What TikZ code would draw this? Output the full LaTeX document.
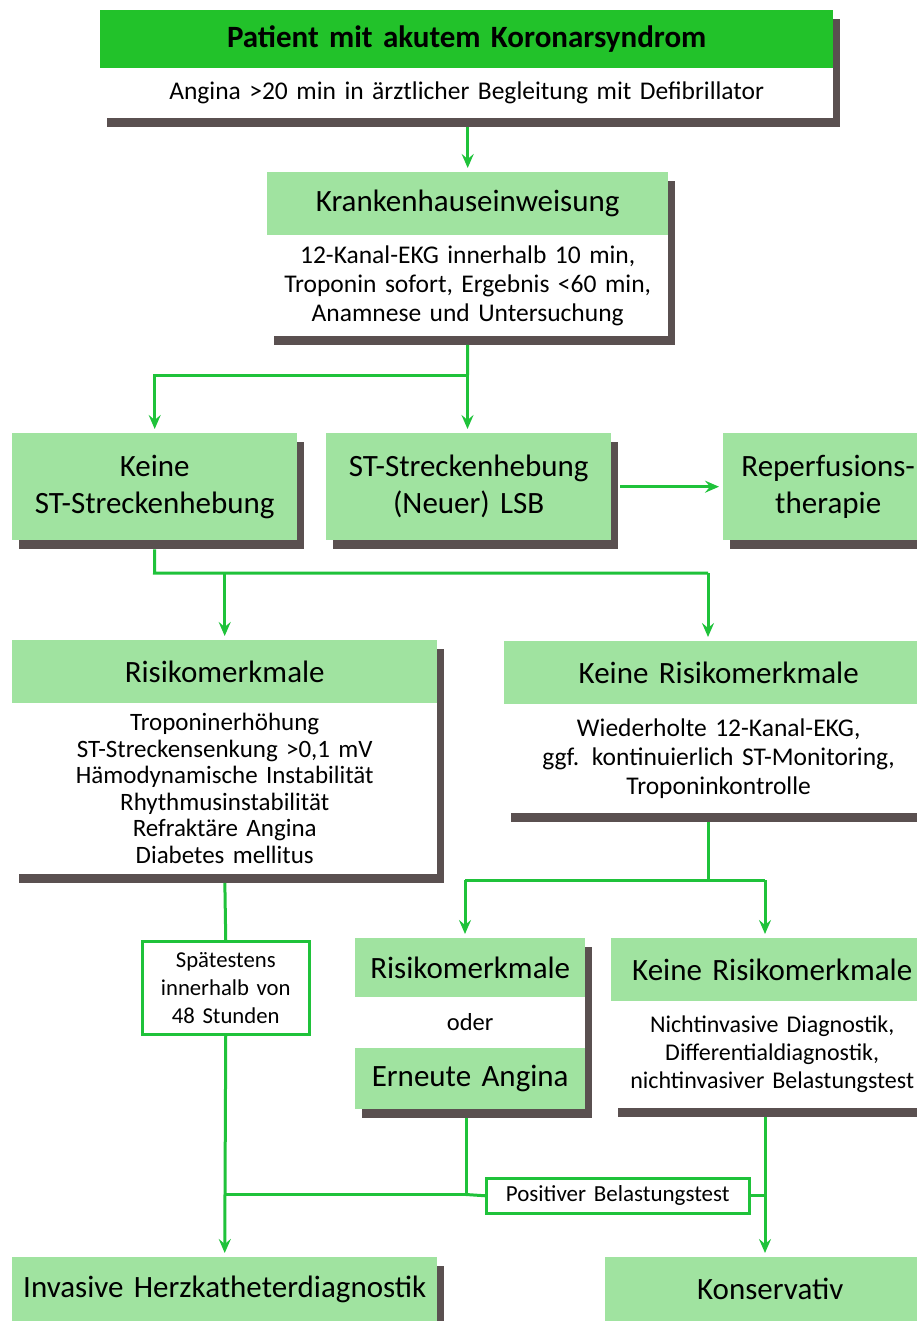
\documentclass[tikz,border=0pt]{standalone}
\usepackage{fontspec}
\setmainfont{Carlito}
\usetikzlibrary{arrows.meta, shadows}

\definecolor{hellgruen}{HTML}{A0E3A0}
\definecolor{kopfgruen}{HTML}{22C22A}
\definecolor{liniengruen}{HTML}{1FC23A}
\definecolor{schatten}{HTML}{5A5050}

\tikzset{
  kasten/.style={anchor=north west, inner sep=0pt, align=center,
    drop shadow={shadow xshift=7pt, shadow yshift=-9pt, fill=schatten, opacity=1}},
  kopf/.style={kasten, fill=hellgruen, font=\fontsize{31}{37}\selectfont},
  rumpf/.style={kasten, fill=white, font=\fontsize{25.5}{29}\selectfont},
  marke/.style={anchor=north west, draw=liniengruen, line width=2.5pt, fill=white,
    inner sep=0pt, align=center},
  linie/.style={liniengruen, line width=3pt},
  pfeil/.style={linie, -{Stealth[length=14pt, width=12pt, inset=5pt]}, shorten >=4pt},
}

\begin{document}
\begin{tikzpicture}[x=1pt, y=-1pt]
    \useasboundingbox (0,0) rectangle (917,1321);

    % Aufnahme
    \node[kasten, fill=kopfgruen, text width=733pt, minimum height=58pt,
      font=\bfseries\fontsize{31}{34}\selectfont] (patient) at (100,10) {Patient mit akutem Koronarsyndrom};
    \node[rumpf, text width=733pt, minimum height=49.5pt, font=\fontsize{25.5}{28}\selectfont]
      (patient-text) at ([yshift=0.5pt]patient.south west) {Angina >20 min in ärztlicher Begleitung mit Defibrillator};

    % Krankenhaus
    \node[kopf, text width=401pt, minimum height=63pt] (kh) at (267,172) {Krankenhauseinweisung};
    \node[rumpf, text width=401pt, minimum height=100.5pt] (kh-text) at ([yshift=0.5pt]kh.south west)
      {12-Kanal-EKG innerhalb 10 min,\\Troponin sofort, Ergebnis <60 min,\\Anamnese und Untersuchung};

    % EKG-Befund
    \node[kopf, text width=285pt, minimum height=107pt] (keine-st) at (12,433) {Keine\\ST-Streckenhebung};
    \node[kopf, text width=285pt, minimum height=107pt] (st) at (326,433) {ST-Streckenhebung\\(Neuer) LSB};
    \node[kopf, text width=210pt, minimum height=107pt] (reperf) at (723,433) {Reperfusions-\\therapie};

    % Risiko
    \node[kopf, text width=425pt, minimum height=63pt] (risiko) at (12,640) {Risikomerkmale};
    \node[rumpf, text width=425pt, minimum height=170.5pt, font=\fontsize{25}{26.5}\selectfont]
      (risiko-text) at ([yshift=0.5pt]risiko.south west) {Troponinerhöhung\\ST-Streckensenkung >0,1 mV\\Hämodynamische Instabilität\\Rhythmusinstabilität\\Refraktäre Angina\\Diabetes mellitus};
    \node[kopf, text width=429pt, minimum height=63pt] (kein-risiko) at (504,641) {Keine Risikomerkmale};
    \node[rumpf, text width=429pt, minimum height=108.5pt] (kein-risiko-text) at ([yshift=0.5pt]kein-risiko.south west)
      {Wiederholte 12-Kanal-EKG,\\ggf. kontinuierlich ST-Monitoring,\\Troponinkontrolle};

    % Verlauf
    \node[kopf, text width=230pt, minimum height=59pt] (rm) at (355,938) {Risikomerkmale};
    \node[rumpf, text width=230pt, minimum height=50.5pt, font=\fontsize{24.5}{26}\selectfont] (oder) at ([yshift=0.5pt]rm.south west) {oder};
    \node[kopf, text width=230pt, minimum height=61.5pt] (angina) at ([yshift=0.5pt]oder.south west) {Erneute Angina};
    \node[kopf, text width=322pt, minimum height=63pt] (kein-rm) at (611,938) {Keine Risikomerkmale};
    \node[rumpf, text width=322pt, minimum height=106.5pt, font=\fontsize{24}{28}\selectfont]
      (kein-rm-text) at ([yshift=0.5pt]kein-rm.south west) {Nichtinvasive Diagnostik,\\Differentialdiagnostik,\\nichtinvasiver Belastungstest};

    % Therapie
    \node[kopf, text width=425pt, minimum height=64pt] (invasiv) at (12,1257) {Invasive Herzkatheterdiagnostik};
    \node[kopf, text width=330pt, minimum height=64pt] (konserv) at (605,1257) {Konservativ};

    % Marken
    \node[marke, text width=167pt, minimum height=93pt, font=\fontsize{22.7}{28}\selectfont]
      (spaet) at (141,940) {Spätestens\\innerhalb von\\48 Stunden};
    \node[marke, text width=263pt, minimum height=35pt, font=\fontsize{23}{24}\selectfont]
      (pos) at (485,1177) {Positiver Belastungstest};

    % Verbindungen
    \draw[pfeil, shorten <=9pt] (patient-text.south -| kh.north) -- (kh.north);

    \coordinate (gabel-kh) at (467.5,375);
    \draw[linie, shorten <=9pt] (kh-text.south) -- (gabel-kh);
    \draw[pfeil] (gabel-kh) -| (keine-st.north);
    \draw[pfeil] (gabel-kh) -- (gabel-kh |- st.north);
    \draw[pfeil, shorten <=9pt] (st.east) -- (reperf.west);

    \coordinate (knick-a) at (154.5,573);
    \coordinate (knick-b) at (708,573);
    \draw[linie, shorten <=9pt] (keine-st.south) -- (knick-a) -- (knick-b);
    \draw[pfeil] (knick-b) -- (knick-b |- kein-risiko.north);
    \draw[pfeil] (risiko.north |- knick-a) -- (risiko.north);

    \coordinate (knick-c) at (708,880);
    \coordinate (knick-d) at (465,880);
    \coordinate (knick-e) at (765,880);
    \draw[linie, shorten <=9pt] (knick-c |- kein-risiko-text.south) -- (knick-c);
    \draw[linie] (knick-d) -- (knick-e);
    \draw[pfeil] (knick-d) -- (knick-d |- rm.north);
    \draw[pfeil] (knick-e) -- (knick-e |- kein-rm.north);

    \draw[linie, shorten <=9pt] (risiko-text.south) -- (spaet.north);
    \draw[pfeil] (spaet.south) -- (invasiv.north);

    \coordinate (knick-f) at (466,1194.5);
    \draw[linie, shorten <=9pt] (knick-f |- angina.south) -- (knick-f);
    \draw[linie] (knick-f) -- (knick-f -| invasiv.north);
    \draw[linie] (knick-f) -- (pos.west);
    \draw[linie] (pos.east) -- (pos.east -| knick-e);
    \draw[pfeil, shorten <=9pt] (knick-e |- kein-rm-text.south) -- (knick-e |- konserv.north);
\end{tikzpicture}
\end{document}
